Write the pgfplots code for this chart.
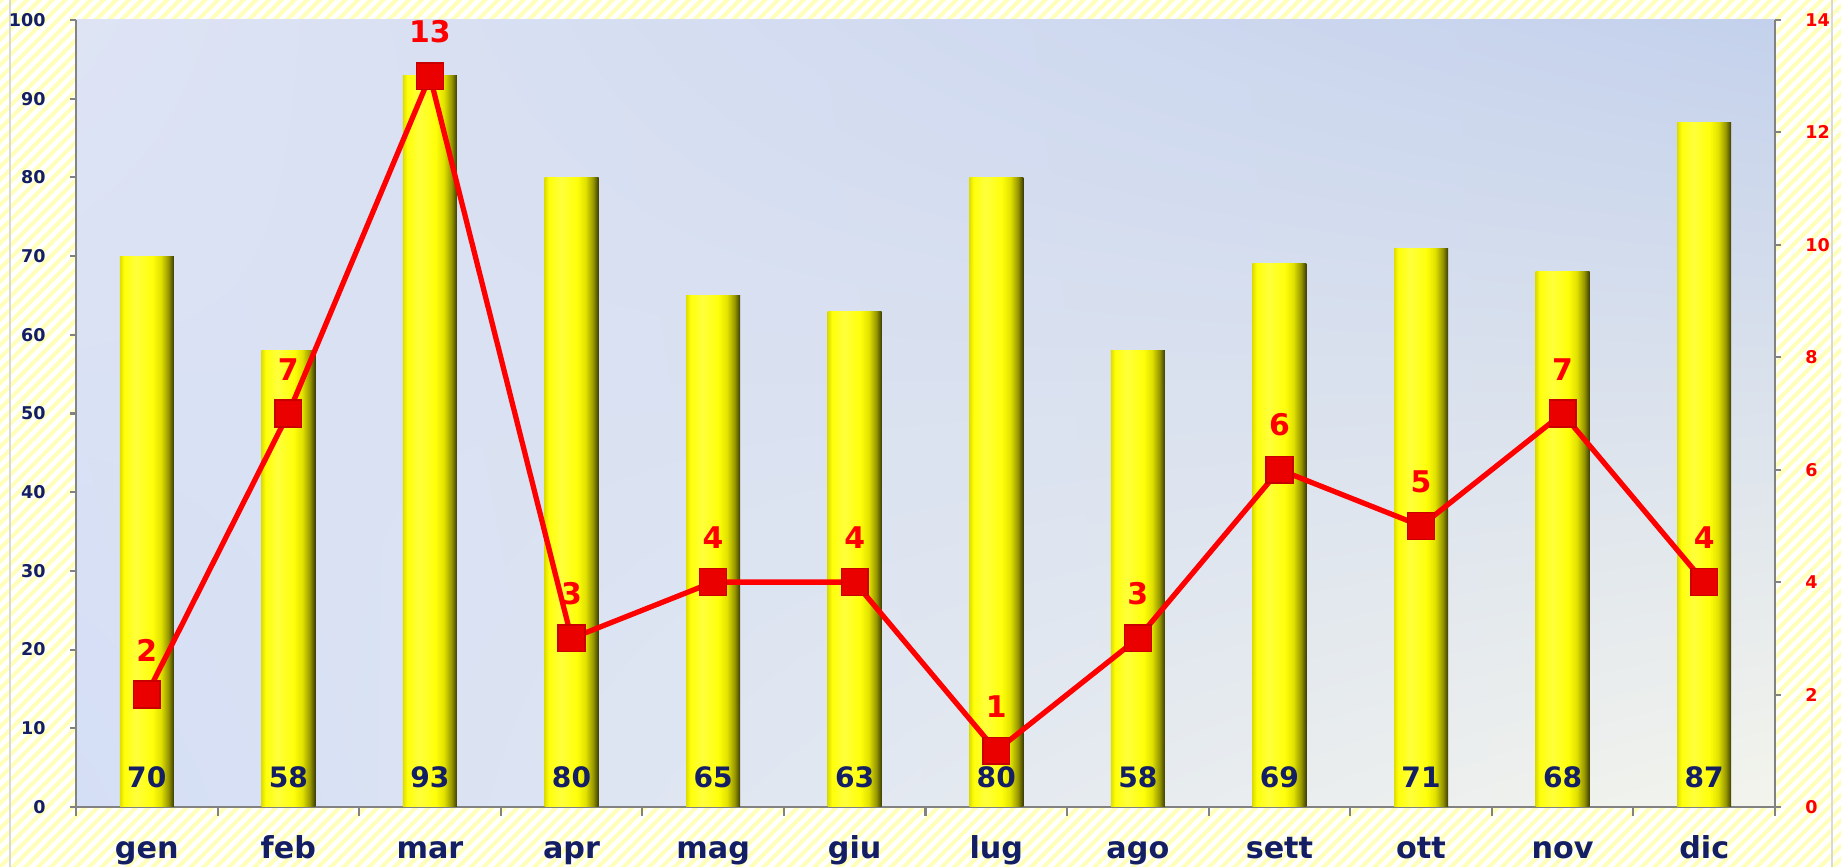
\documentclass[border=0pt]{standalone}
\usepackage{pgfplots}
\pgfplotsset{compat=1.18}
\usepackage{fontspec}
\setmainfont{DejaVu Sans}
\usetikzlibrary{patterns.meta,shadings}
\definecolor{navy}{RGB}{20,30,100}
\definecolor{axisgray}{RGB}{130,130,130}
\definecolor{stripe}{RGB}{255,255,185}
\definecolor{bgUL}{RGB}{222,228,244}
\definecolor{bgUR}{RGB}{196,209,236}
\definecolor{bgLL}{RGB}{212,222,245}
\definecolor{bgLR}{RGB}{243,244,236}
\definecolor{lred}{RGB}{255,0,0}
\definecolor{mred}{RGB}{235,0,0}
\definecolor{barA}{RGB}{222,222,0}
\definecolor{barB}{RGB}{255,255,10}
\definecolor{barC}{RGB}{255,255,60}
\definecolor{barD}{RGB}{225,225,0}
\definecolor{barE}{RGB}{150,150,0}
\definecolor{barF}{RGB}{60,60,5}
\pgfdeclarehorizontalshading{barshade}{100bp}{color(0bp)=(barA); color(25bp)=(barA); color(29bp)=(barB); color(40bp)=(barC); color(55bp)=(barB); color(63bp)=(barD); color(70bp)=(barE); color(75bp)=(barF); color(100bp)=(barF)}
\pgfplotsset{
  mybar/.style={ybar, bar width=5.4mm, draw=none, shade, shading=barshade,
    nodes near coords,
    visualization depends on={rawy \as \rawy},
    every node near coord/.append style={font=\fontsize{8}{9.6}\selectfont\bfseries, text=navy, anchor=center, shift={(axis direction cs:0,3.8-\rawy)}}},
}
\begin{document}
\begin{tikzpicture}
\path[use as bounding box] (-7.6mm,-6mm) rectangle (176.5mm,80.7mm);
\fill[white] (-7.6mm,-6mm) rectangle (176.5mm,80.7mm);
\fill[pattern={Lines[angle=45,distance=0.9mm,line width=0.4mm]},pattern color=stripe] (-7.6mm,-6mm) rectangle (176.5mm,80.7mm);
\draw[black!15, line width=0.4pt] (-6.6mm,-6mm) -- (-6.6mm,80.7mm);
\draw[black!15, line width=0.4pt] (175.6mm,-6mm) -- (175.6mm,80.7mm);
\begin{axis}[
  at={(0,0)}, anchor=south west, scale only axis,
  width=169.9mm, height=78.7mm,
  xmin=-0.5, xmax=11.5, ymin=0, ymax=100,
  axis x line*=bottom, axis y line*=left,
  axis line style={draw=axisgray, line width=0.6pt, -},
  xtick={0,...,11},
  xticklabels={gen,feb,mar,apr,mag,giu,lug,ago,sett,ott,nov,dic},
  minor xtick={-0.5,0.5,...,11.5},
  ytick={0,10,...,100},
  tick align=outside,
  major tick length=0.6mm, minor tick length=0.9mm,
  major x tick style={draw=none},
  minor x tick style={draw=axisgray, line width=0.6pt},
  y tick style={draw=axisgray, line width=0.6pt},
  /pgf/number format/assume math mode=true,
  yticklabel style={font=\fontsize{5}{6}\selectfont\bfseries, text=navy, xshift=-1.2mm},
  xticklabel style={font=\fontsize{8.6}{10}\selectfont\bfseries, text=navy, anchor=base, yshift=-4.6mm},
  axis background/.style={shade, upper left=bgUL, upper right=bgUR, lower left=bgLL, lower right=bgLR},
]
\addplot[mybar] coordinates {(0,70)};
\addplot[mybar] coordinates {(1,58)};
\addplot[mybar] coordinates {(2,93)};
\addplot[mybar] coordinates {(3,80)};
\addplot[mybar] coordinates {(4,65)};
\addplot[mybar] coordinates {(5,63)};
\addplot[mybar] coordinates {(6,80)};
\addplot[mybar] coordinates {(7,58)};
\addplot[mybar] coordinates {(8,69)};
\addplot[mybar] coordinates {(9,71)};
\addplot[mybar] coordinates {(10,68)};
\addplot[mybar] coordinates {(11,87)};
\end{axis}
\begin{axis}[
  at={(0,0)}, anchor=south west, scale only axis,
  width=169.9mm, height=78.7mm,
  xmin=-0.5, xmax=11.5, ymin=0, ymax=14,
  axis x line=none, axis y line*=right,
  axis line style={draw=axisgray, line width=0.6pt, -},
  ytick={0,2,...,14},
  tick align=outside, major tick length=0.6mm,
  y tick style={draw=axisgray, line width=0.6pt},
  /pgf/number format/assume math mode=true,
  yticklabel style={font=\fontsize{5}{6}\selectfont\bfseries, text=lred, xshift=1.2mm},
  clip=false,
]
\addplot[lred, line width=1.5pt, mark=square*, mark size=3.8pt,
  mark options={fill=mred, draw=mred!85!black, line width=0.4pt},
  nodes near coords,
  every node near coord/.append style={font=\fontsize{8.5}{10}\selectfont\bfseries, text=lred, anchor=south, yshift=2.1mm}]
  coordinates {(0,2) (1,7) (2,13) (3,3) (4,4) (5,4) (6,1) (7,3) (8,6) (9,5) (10,7) (11,4)};
\end{axis}
\end{tikzpicture}
\end{document}
